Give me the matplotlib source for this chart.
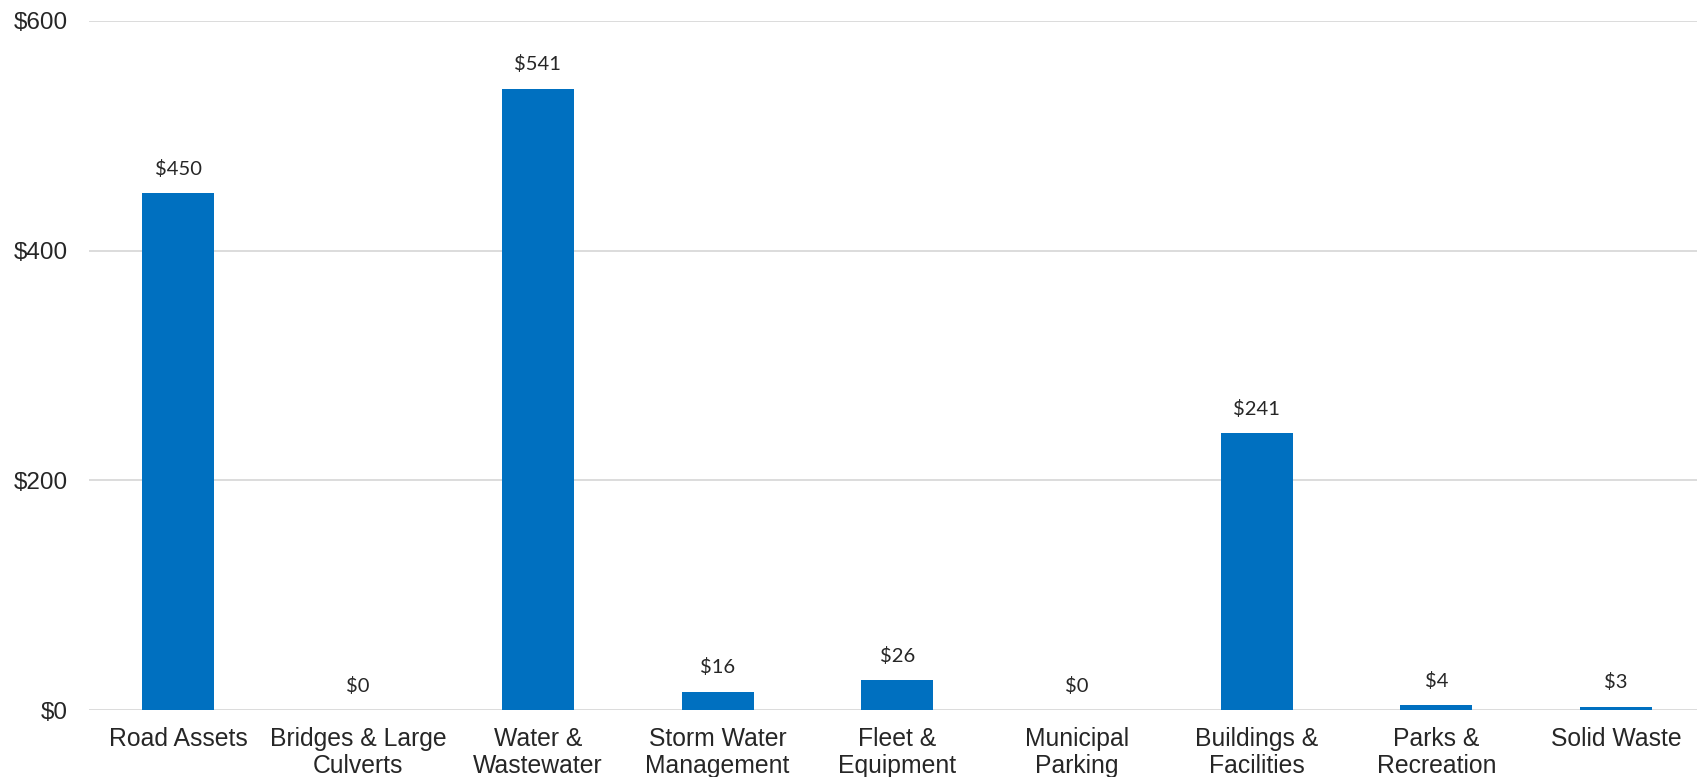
import matplotlib.pyplot as plt

categories = ["Road Assets", "Bridges & Large\nCulverts", "Water &\nWastewater",
              "Storm Water\nManagement", "Fleet &\nEquipment", "Municipal\nParking",
              "Buildings &\nFacilities", "Parks &\nRecreation", "Solid Waste"]
values = [450, 0, 541, 16, 26, 0, 241, 4, 3]
yticks = [0, 200, 400, 600]

fig = plt.figure(figsize=(16.97, 7.77), dpi=100)
ax = fig.add_axes([0.0522, 0.0862, 0.9531, 0.8868])

x = range(len(categories))
ax.bar(x, values, width=0.4, color='#0070C0', zorder=3)

# value labels above each bar
for i, v in zip(x, values):
    ax.annotate(f"${v}", (i, v), xytext=(0, 11), textcoords='offset points',
                ha='center', va='bottom', fontsize=14.5, family='Lato', color='#262626')

ax.set_xlim(-0.5, len(categories) - 0.5)
ax.set_ylim(0, 600)
ax.set_yticks(yticks)
ax.set_yticklabels([f"${t}" for t in yticks], family='Liberation Sans', fontsize=17.5, color='#262626')
ax.set_xticks(list(x))
ax.set_xticklabels(categories, family='Liberation Sans', fontsize=17.8, color='#262626')
for lbl in ax.get_xticklabels():
    lbl.set_linespacing(1.2)

ax.tick_params(axis='both', length=0)
ax.tick_params(axis='y', pad=15)
ax.tick_params(axis='x', pad=12)
ax.grid(axis='y', color='#D9D9D9', linewidth=1.3, zorder=0)
for s in ax.spines.values():
    s.set_visible(False)

fig.savefig("out.png", dpi=100)
